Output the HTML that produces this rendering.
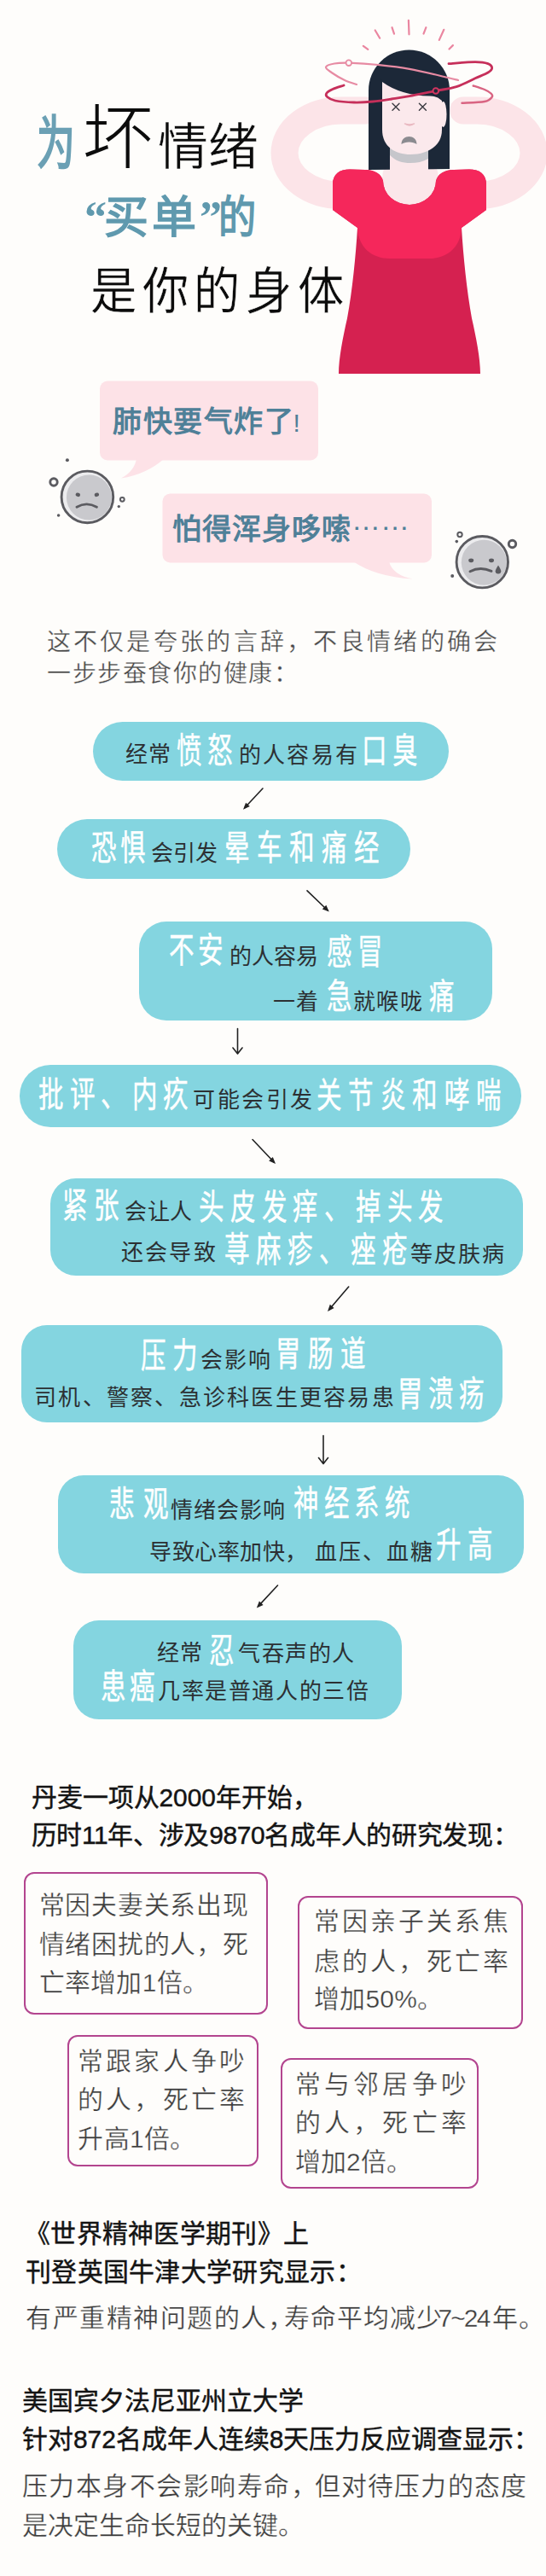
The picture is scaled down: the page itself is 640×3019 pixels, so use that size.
<!DOCTYPE html>
<html lang="zh-CN">
<head>
<meta charset="utf-8">
<title>为坏情绪买单的是你的身体</title>
<style>
html,body{margin:0;padding:0}
body{width:640px;height:3019px;position:relative;overflow:hidden;background:#fefdfb;font-family:"Liberation Sans",sans-serif;color:#333}
.t{position:absolute;white-space:nowrap;line-height:1;margin:0;padding:0;text-align:justify;text-align-last:justify}
svg{position:absolute;left:0;top:0;overflow:visible}
.pill{position:absolute;background:#84d5e0}
.r{color:#2c3033;font-size:26px}
.h{color:#fff;-webkit-text-stroke:0.5px #fff;font-size:41px;transform-origin:0 50%;transform:scaleX(.72);letter-spacing:10px}
.box{position:absolute;border:2.4px solid #b3458f;border-radius:12px;box-sizing:border-box}
.bt{color:#3c3c3c;font-size:29.9px;-webkit-text-stroke:0.35px #fefdfb}
.hd{color:#141414;font-size:29.9px;-webkit-text-stroke:0.45px #141414}
.bd{color:#3c3c3c;font-size:29.9px;-webkit-text-stroke:0.3px #fefdfb}
.arrow{stroke:#222;stroke-width:1.6;fill:none;stroke-linecap:round;stroke-linejoin:round}
</style>
</head>
<body>

<!-- ===== illustration ===== -->
<svg width="640" height="470" viewBox="0 0 640 470">
  <defs>
    <clipPath id="shirtclip">
      <path d="M390 246 L390 216 C390 204 398 198.500 410 198.500 L428 199 C440 199.500 447 204 449 212 A31 28 0 0 0 511 212 C513 204 520 199.500 532 199 L550 198.500 C562 198.500 570 204 570 216 L570 246 L541 267 C543 300 547 340 553 373 C558 395 563 420 563 438 L397 438 C397 420 402 395 407 373 C413 340 417 300 419 267 Z"/>
    </clipPath>
    <clipPath id="neckclip"><rect x="457" y="160" width="45" height="60"/></clipPath>
  </defs>
  <!-- arms -->
  <g fill="none" stroke="#fce4e8" stroke-width="32" stroke-linecap="round">
    <path d="M428 129.500 L400 129.500 A66.500 49.750 0 0 0 400 229"/>
    <path d="M543 129.500 L559 129.500 A66.500 49.750 0 0 1 559 229"/>
  </g>
  <!-- rays -->
  <g stroke="#ea86a0" stroke-width="2.200" stroke-linecap="round" fill="none">
    <path d="M425.800 53.800 L431.300 57.900"/>
    <path d="M439.700 35.500 L445.200 44.700"/>
    <path d="M459.500 32.200 L462 39.600"/>
    <path d="M478.900 23.800 L479.500 40.300"/>
    <path d="M499.400 32.200 L496.500 39.600"/>
    <path d="M520.300 34.800 L514.800 46.900"/>
    <path d="M530.900 53.100 L526.500 57.500"/>
  </g>
  <circle cx="481" cy="209" r="33" fill="#fbe7ea"/>
  <!-- hair back -->
  <path d="M432 199 L432 106 A47.5 47.5 0 0 1 527 106 L527 198 Z" fill="#1c2838"/>
  <!-- neck + skin in neckline -->
  <rect x="457" y="160" width="45" height="60" fill="#fbe7ea"/>
  <g clip-path="url(#neckclip)">
    <path d="M448 150 C448 182 463 191 481 191 C500 191 518 182 518 150 Z" fill="#c6c6cb"/>
  </g>
  <!-- shirt -->
  <path d="M390 246 L390 216 C390 204 398 198.500 410 198.500 L428 199 C440 199.500 447 204 449 212 A31 28 0 0 0 511 212 C513 204 520 199.500 532 199 L550 198.500 C562 198.500 570 204 570 216 L570 246 L541 267 C543 300 547 340 553 373 C558 395 563 420 563 438 L397 438 C397 420 402 395 407 373 C413 340 417 300 419 267 Z" fill="#d52150"/>
  <g clip-path="url(#shirtclip)">
    <path d="M380 190 L580 190 L580 246 L541 267 C540 290 524 303 503 303 L457 303 C436 303 420 290 419 267 L380 246 Z" fill="#f5275b"/>
  </g>
  <!-- face -->
  <path d="M448 92 L448 152 C448 172 463 181 481 181 C500 181 518 172 518 152 L518 92 Z" fill="#fbe9ec"/>
  <ellipse cx="519.500" cy="134" rx="4" ry="15" fill="#fbe9ec"/>
  <!-- fringe -->
  <path d="M446 91 L522 91 L527 106 L527 118 L518 118 Q512 112.500 504 112.500 Q470 112 448 96 Z" fill="#1c2838"/>
  <!-- eyes -->
  <g stroke="#3a3a40" stroke-width="1.4" stroke-linecap="round">
    <path d="M460 121.200 L468 129.200 M468 121.200 L460 129.200"/>
    <path d="M491.400 121.200 L499.400 129.200 M499.400 121.200 L491.400 129.200"/>
  </g>
  <!-- nose -->
  <path d="M474.500 145 Q480 149 485.500 145 Q480 147 474.500 145 Z" fill="#e9b9c1" stroke="#e9b9c1" stroke-width="1.500" stroke-linejoin="round"/>
  <!-- mouth -->
  <path d="M470.500 169 C470.500 157 488.500 157 488.500 169 C484 165.500 475 165.500 470.500 169 Z" fill="#8b8b90"/>
  <!-- swooshes -->
  <g fill="none" stroke-linecap="round">
    <path stroke="#e78ba3" stroke-width="2.200" d="M418.0 99.0 C415.7 98.2 408.9 96.3 404.0 94.0 C399.1 91.7 392.3 87.6 388.6 85.0 C384.9 82.4 381.4 80.3 382.0 78.6 C382.6 76.8 387.5 75.3 392.0 74.5 C396.5 73.7 400.2 73.5 408.8 73.7 C417.4 74.0 431.6 74.8 443.5 76.0 C455.4 77.2 466.6 78.3 480.0 80.8 C493.4 83.2 514.5 88.5 524.0 90.7 C533.5 92.9 534.8 93.5 537.0 94.0"/>
    <path stroke="#d96482" stroke-width="2.400" d="M554.7 100.5 C556.9 101.2 564.5 103.5 568.0 105.0 C571.5 106.500 574.0 108.0 575.5 109.5 C577.0 111.0 578.0 112.1 576.7 113.7 C575.5 115.3 573.9 117.8 568.0 119.0 C562.1 120.2 545.9 120.5 541.5 120.8"/>
    <path stroke="#c62f5a" stroke-width="2.800" d="M403.0 100.0 C400.8 100.8 393.3 103.0 390.0 104.5 C386.7 106.0 384.1 107.5 383.0 109.0 C381.9 110.5 381.8 112.0 383.5 113.5 C385.2 115.0 387.8 116.9 393.0 118.0 C398.2 119.1 407.7 119.8 415.0 120.0 C422.3 120.2 429.7 119.7 437.0 119.0 C444.3 118.3 451.8 117.1 459.0 116.0 C466.2 114.9 471.4 114.2 480.0 112.6 C488.6 111.0 501.6 108.3 510.8 106.5 C520.0 104.7 527.3 104.0 535.0 101.6 C542.7 99.1 550.8 94.6 557.0 91.8 C563.2 89.0 568.7 87.0 572.0 85.0 C575.3 83.0 576.7 81.4 576.7 79.7 C576.7 78.0 575.3 75.8 572.0 74.6 C568.7 73.4 564.7 72.6 557.0 72.6 C549.3 72.6 531.2 74.3 526.0 74.6"/>
  </g>
  <circle cx="408.800" cy="73.700" r="3.300" fill="#fefdfb" stroke="#e78ba3" stroke-width="1.800"/>
  <circle cx="510.800" cy="106.500" r="3.300" fill="#1c2838" stroke="#d23560" stroke-width="2"/>
</svg>

<!-- ===== title ===== -->
<div class="t" id="t1" style="left:43px;top:134px;font-size:68px;font-weight:bold;color:#6ba0b4;transform-origin:0 0;transform:scaleX(.66)">为</div>
<div class="t" id="t2" style="left:96px;top:119.5px;font-size:84px;color:#0c0c0c;-webkit-text-stroke:1.9px #fefdfb">坏</div>
<div class="t" id="t3" style="left:184.500px;top:143.500px;font-size:59px;color:#0c0c0c;-webkit-text-stroke:0.5px #fefdfb;width:118.00px">情绪</div>
<div class="t" id="t4" style="left:99px;top:228.500px;font-size:52px;font-weight:bold;color:#5f99ae;font-family:'Liberation Serif',serif">“</div>
<div class="t" id="t5" style="left:122px;top:228.500px;font-size:52px;font-weight:bold;color:#5f99ae;letter-spacing:4px;width:112.00px">买单</div>
<div class="t" id="t6" style="left:234px;top:228.500px;font-size:52px;font-weight:bold;color:#5f99ae;font-family:'Liberation Serif',serif">”</div>
<div class="t" id="t7" style="left:256px;top:228.500px;font-size:52px;font-weight:bold;color:#5f99ae;transform-origin:0 0;transform:scaleX(.85)">的</div>
<div class="t" id="t8" style="left:106px;top:312.500px;font-size:59px;color:#0c0c0c;-webkit-text-stroke:0.4px #fefdfb;letter-spacing:7px;transform-origin:0 0;transform:scaleX(.92);width:330.00px">是你的身体</div>

<!-- ===== bubbles ===== -->
<svg width="640" height="720" viewBox="0 0 640 720">
  <g fill="#fde2e7">
    <rect x="117" y="446.500" width="256" height="93" rx="9"/>
    <path d="M160 537 Q158 552 142 560.500 Q172 556 193 537 Z"/>
    <rect x="190.500" y="578.500" width="315.500" height="81" rx="9"/>
    <path d="M414 658 Q440 676 484 678.500 Q460 674 456 658 Z"/>
  </g>
  <!-- face 1 -->
  <g>
    <circle cx="102.400" cy="582.400" r="29" fill="#ececee"/>
    <circle cx="104.400" cy="582.900" r="26.500" fill="#c9c9cd"/>
    <circle cx="102.400" cy="582.400" r="30.300" fill="none" stroke="#5b5b60" stroke-width="2.900"/>
    <ellipse cx="91.300" cy="579.800" rx="2.700" ry="2.200" fill="#5b5b60" transform="rotate(25 91.300 579.800)"/>
    <ellipse cx="113.400" cy="579.800" rx="2.700" ry="2.200" fill="#5b5b60" transform="rotate(-25 113.400 579.800)"/>
    <path d="M90 594.300 Q101.500 587.500 113.400 594.300" fill="none" stroke="#5b5b60" stroke-width="2.900" stroke-linecap="round"/>
    <circle cx="63" cy="565" r="4.200" fill="none" stroke="#5b5b60" stroke-width="2.900"/>
    <circle cx="143.300" cy="585.300" r="2.400" fill="none" stroke="#5b5b60" stroke-width="2"/>
    <circle cx="78.900" cy="539.300" r="2" fill="#5b5b60"/>
    <circle cx="139.300" cy="593.600" r="1.700" fill="#5b5b60"/>
    <circle cx="68.600" cy="604" r="1.800" fill="#5b5b60"/>
  </g>
  <!-- face 2 -->
  <g>
    <circle cx="565.300" cy="658.700" r="29" fill="#ececee"/>
    <circle cx="567.300" cy="659.200" r="26.500" fill="#c9c9cd"/>
    <circle cx="565.300" cy="658.700" r="30.200" fill="none" stroke="#5b5b60" stroke-width="2.900"/>
    <ellipse cx="552.200" cy="656.800" rx="3" ry="2.400" fill="#5b5b60"/>
    <ellipse cx="576" cy="656.800" rx="3" ry="2.400" fill="#5b5b60"/>
    <path d="M551 669.800 Q562.700 663.500 576 669.300" fill="none" stroke="#5b5b60" stroke-width="2.900" stroke-linecap="round"/>
    <path d="M584 662.500 Q587.300 667.500 587.300 669.300 A3.300 3.300 0 0 1 580.700 669.300 Q580.700 667.500 584 662.500 Z" fill="#5b5b60"/>
    <circle cx="539" cy="626.500" r="2.700" fill="none" stroke="#5b5b60" stroke-width="2"/>
    <circle cx="600.500" cy="637.500" r="4.200" fill="none" stroke="#5b5b60" stroke-width="2.900"/>
    <circle cx="535.300" cy="634.600" r="1.800" fill="#5b5b60"/>
    <circle cx="530.200" cy="675" r="2" fill="#5b5b60"/>
  </g>
</svg>
<div class="t" id="b1" style="left:132px;top:476.500px;font-size:34px;font-weight:bold;color:#4f8098;letter-spacing:1.600px;width:221.55px">肺快要气炸了<span style="font-weight:normal;font-size:30px;margin-left:-2px">!</span></div>
<div class="t" id="b2" style="left:202px;top:602.500px;font-size:34px;font-weight:bold;color:#4f8098;letter-spacing:1px;width:278.00px">怕得浑身哆嗦<span style="position:relative;top:-11px;font-weight:normal;letter-spacing:0">……</span></div>

<!-- ===== intro ===== -->
<div class="t" id="i1" style="left:54.5px;top:738.5px;font-size:28px;color:#484848;-webkit-text-stroke:0.35px #fefdfb;letter-spacing:3.3px;width:532.11px">这不仅是夸张的言辞，不良情绪的确会</div>
<div class="t" id="i2" style="left:55px;top:776.3px;font-size:28px;color:#484848;-webkit-text-stroke:0.35px #fefdfb;letter-spacing:1.5px;width:295.00px">一步步蚕食你的健康：</div>

<!--PILLS_START-->
<!-- ===== pills ===== -->
<div class="pill" style="left:109px;top:846px;width:416.5px;height:69px;border-radius:34.5px"></div>
<div class="pill" style="left:66.5px;top:959.5px;width:414px;height:70.5px;border-radius:35.2px"></div>
<div class="pill" style="left:163px;top:1079.5px;width:413.7px;height:116.2px;border-radius:32px"></div>
<div class="pill" style="left:23.4px;top:1248px;width:587.9px;height:72.5px;border-radius:36.2px"></div>
<div class="pill" style="left:59.2px;top:1381px;width:553.8px;height:113.6px;border-radius:30px"></div>
<div class="pill" style="left:24.6px;top:1553.4px;width:564.9px;height:114.1px;border-radius:30px"></div>
<div class="pill" style="left:67.5px;top:1728.6px;width:546.8px;height:115px;border-radius:30px"></div>
<div class="pill" style="left:85.8px;top:1899px;width:385.2px;height:115.5px;border-radius:30px"></div>
<div class="t r" id="p0" style="left:147px;top:871.3px;letter-spacing:0.6px;width:53.20px">经常</div>
<div class="t h" id="p1" style="left:207.1px;top:859.7px;letter-spacing:9.67px;width:101.34px">愤怒</div>
<div class="t r" id="p2" style="left:280px;top:871.8px;letter-spacing:2.17px;width:140.86px">的人容易有</div>
<div class="t h" id="p3" style="left:423.9px;top:860px;letter-spacing:8.56px;width:99.12px">口臭</div>
<div class="t h" id="p4" style="left:107.3px;top:973.5px;letter-spacing:6.19px;width:94.39px">恐惧</div>
<div class="t r" id="p5" style="left:176.6px;top:987px;letter-spacing:0.1px;width:78.31px">会引发</div>
<div class="t h" id="p6" style="left:262.9px;top:974px;letter-spacing:11.81px;width:264.06px">晕车和痛经</div>
<div class="t h" id="p7" style="left:198.3px;top:1094px;letter-spacing:6.61px;width:95.23px">不安</div>
<div class="t r" id="p8" style="left:268.6px;top:1108px;letter-spacing:0.27px;width:105.09px">的人容易</div>
<div class="t h" id="p9" style="left:383.1px;top:1095.5px;letter-spacing:9.67px;width:101.34px">感冒</div>
<div class="t r" id="p10" style="left:319.5px;top:1161px;letter-spacing:1.9px;width:55.81px">一着</div>
<div class="t h" id="p11" style="left:383.1px;top:1148px;letter-spacing:10px">急</div>
<div class="t r" id="p12" style="left:413.5px;top:1161px;letter-spacing:1.55px;width:82.66px">就喉咙</div>
<div class="t h" id="p13" style="left:502.8px;top:1147.5px;letter-spacing:10px">痛</div>
<div class="t h" id="p14" style="left:45px;top:1262.5px;letter-spacing:9.83px;width:254.16px">批评、内疚</div>
<div class="t r" id="p15" style="left:226.4px;top:1276.3px;letter-spacing:2.5px;width:142.50px">可能会引发</div>
<div class="t h" id="p16" style="left:370.9px;top:1263.7px;letter-spacing:10.97px;width:311.83px">关节炎和哮喘</div>
<div class="t h" id="p17" style="left:73.3px;top:1393px;letter-spacing:10.78px;width:103.56px">紧张</div>
<div class="t r" id="p18" style="left:146px;top:1406.8px;letter-spacing:0.5px;width:79.50px">会让人</div>
<div class="t h" id="p19" style="left:232.7px;top:1394.5px;letter-spacing:10.09px;width:408.73px">头皮发痒、掉头发</div>
<div class="t r" id="p20" style="left:142.3px;top:1454.8px;letter-spacing:2.07px;width:112.28px">还会导致</div>
<div class="t h" id="p21" style="left:263.3px;top:1445px;letter-spacing:10.47px;width:308.83px">荨麻疹、痤疮</div>
<div class="t r" id="p22" style="left:480.8px;top:1457.3px;letter-spacing:2.07px;width:112.28px">等皮肤病</div>
<div class="t h" id="p23" style="left:164.6px;top:1568.5px;letter-spacing:10.08px;width:102.17px">压力</div>
<div class="t r" id="p24" style="left:234.6px;top:1580.8px;letter-spacing:2.45px;width:85.36px">会影响</div>
<div class="t h" id="p25" style="left:323px;top:1567px;letter-spacing:11.9px;width:158.70px">胃肠道</div>
<div class="t r" id="p26" style="left:40px;top:1625.3px;letter-spacing:2.26px;width:423.91px">司机、警察、急诊科医生更容易患</div>
<div class="t h" id="p27" style="left:466.2px;top:1613.5px;letter-spacing:8.92px;width:149.77px">胃溃疡</div>
<div class="t h" id="p28" style="left:128.3px;top:1742.5px;letter-spacing:14.94px;width:111.89px">悲观</div>
<div class="t r" id="p29" style="left:200px;top:1757.3px;letter-spacing:1px;width:135.00px">情绪会影响</div>
<div class="t h" id="p30" style="left:343.9px;top:1742px;letter-spacing:8.57px;width:198.28px">神经系统</div>
<div class="t r" id="p31" style="left:175px;top:1806px;letter-spacing:0.5px;width:185.50px">导致心率加快，</div>
<div class="t r" id="p32" style="left:368.8px;top:1806px;letter-spacing:2.15px;width:140.75px">血压、血糖</div>
<div class="t h" id="p33" style="left:511.3px;top:1790.5px;letter-spacing:10.36px;width:102.73px">升高</div>
<div class="t r" id="p34" style="left:183.7px;top:1924.3px;letter-spacing:1px;width:54.00px">经常</div>
<div class="t h" id="p35" style="left:244.9px;top:1914.5px;letter-spacing:10px">忍</div>
<div class="t r" id="p36" style="left:279px;top:1925.3px;letter-spacing:1.62px;width:138.11px">气吞声的人</div>
<div class="t h" id="p37" style="left:117.8px;top:1957px;letter-spacing:5.64px;width:93.28px">患癌</div>
<div class="t r" id="p38" style="left:185px;top:1969.3px;letter-spacing:1.59px;width:248.31px">几率是普通人的三倍</div>
<svg width="640" height="2020" viewBox="0 0 640 2020">
<path class="arrow" d="M308.0 924.0 L287.0 946.5"/>
<path d="M285.0 948.7 L288.1 940.7 L292.8 945.0 Z" fill="#222"/>
<path class="arrow" d="M360.0 1043.8 L383.6 1066.5"/>
<path d="M385.8 1068.6 L377.8 1065.4 L382.3 1060.7 Z" fill="#222"/>
<path class="arrow" d="M278.5 1205.6 L278.5 1235.0 M273.0 1228.0 L278.5 1235.0 L284.0 1228.0"/>
<path class="arrow" d="M296.0 1335.5 L320.9 1361.8"/>
<path d="M323.0 1364.0 L315.2 1360.4 L319.8 1356.0 Z" fill="#222"/>
<path class="arrow" d="M408.7 1508.0 L385.9 1534.7"/>
<path d="M384.0 1537.0 L386.8 1528.8 L391.6 1533.0 Z" fill="#222"/>
<path class="arrow" d="M379.0 1682.5 L379.0 1715.5 M373.5 1708.5 L379.0 1715.5 L384.5 1708.5"/>
<path class="arrow" d="M325.5 1858.0 L302.8 1882.4"/>
<path d="M300.8 1884.6 L303.9 1876.6 L308.6 1880.9 Z" fill="#222"/>
</svg>
<!--PILLS_END-->
<!--STUDY_START-->
<!-- ===== study ===== -->
<div class="t hd" style="left:36.5px;top:2092.2px;width:336.50px">丹麦一项从2000年开始，</div>
<div class="t hd" style="left:36.5px;top:2135.5px;letter-spacing:-0.3px;width:570.94px">历时11年、涉及9870名成年人的研究发现：</div>
<div class="box" style="left:27.6px;top:2194px;width:286px;height:166.5px"></div>
<div class="box" style="left:349.3px;top:2222.2px;width:263.7px;height:155.8px"></div>
<div class="box" style="left:78.8px;top:2384.6px;width:224.5px;height:154.2px"></div>
<div class="box" style="left:328.8px;top:2412.3px;width:232.1px;height:152.4px"></div>
<div class="t bt" style="left:45.5px;top:2217.6px;letter-spacing:0.75px;width:246.00px">常因夫妻关系出现</div>
<div class="t bt" style="left:45.5px;top:2263.7px;letter-spacing:0.75px;width:246.00px">情绪困扰的人，死</div>
<div class="t bt" style="left:45.5px;top:2308.5px;letter-spacing:0.3px;width:198.73px">亡率增加1倍。</div>
<div class="t bt" style="left:367.8px;top:2237px;letter-spacing:3.05px;width:231.36px">常因亲子关系焦</div>
<div class="t bt" style="left:367.8px;top:2283.7px;letter-spacing:3.05px;width:231.36px">虑的人，死亡率</div>
<div class="t bt" style="left:367.8px;top:2327.7px;letter-spacing:0.3px;width:151.62px">增加50%。</div>
<div class="t bt" style="left:91.3px;top:2400.5px;letter-spacing:3.1px;width:198.61px">常跟家人争吵</div>
<div class="t bt" style="left:91.3px;top:2446px;letter-spacing:3.1px;width:198.61px">的人，死亡率</div>
<div class="t bt" style="left:91.3px;top:2491.5px;letter-spacing:0.3px;width:138.12px">升高1倍。</div>
<div class="t bt" style="left:345.5px;top:2427.8px;letter-spacing:4.3px;width:205.81px">常与邻居争吵</div>
<div class="t bt" style="left:345.5px;top:2473.2px;letter-spacing:4.3px;width:205.81px">的人，死亡率</div>
<div class="t bt" style="left:345.5px;top:2518.5px;letter-spacing:0.3px;width:138.12px">增加2倍。</div>
<!--STUDY_END-->
<!--FOOTER_START-->
<!-- ===== footer ===== -->
<div class="t hd" style="left:29px;top:2602.5px;letter-spacing:0.3px;width:333.31px">《世界精神医学期刊》上</div>
<div class="t hd" style="left:30px;top:2647.5px;letter-spacing:0.3px;width:393.91px">刊登英国牛津大学研究显示：</div>
<div class="t bd" style="left:30px;top:2701.5px;letter-spacing:1.5px;width:315.00px">有严重精神问题的人，</div>
<div class="t bd" style="left:332.5px;top:2701.5px;letter-spacing:1px;width:186.00px">寿命平均减少</div>
<div class="t bd" style="left:513.4px;top:2701.5px;letter-spacing:-1.8px;width:60.14px">7~24</div>
<div class="t bd" style="left:577px;top:2701.5px;letter-spacing:1px;width:62.00px">年。</div>
<div class="t hd" style="left:26px;top:2798.9px;width:330.00px">美国宾夕法尼亚州立大学</div>
<div class="t hd" style="left:26px;top:2843.9px;width:606.50px">针对872名成年人连续8天压力反应调查显示：</div>
<div class="t bd" style="left:25.8px;top:2898.9px;letter-spacing:1.5px;width:346.50px">压力本身不会影响寿命，</div>
<div class="t bd" style="left:368.6px;top:2898.9px;letter-spacing:1.2px;width:249.61px">但对待压力的态度</div>
<div class="t bd" style="left:26px;top:2944.5px;width:330.00px">是决定生命长短的关键。</div>
<!--FOOTER_END-->
</body>
</html>
